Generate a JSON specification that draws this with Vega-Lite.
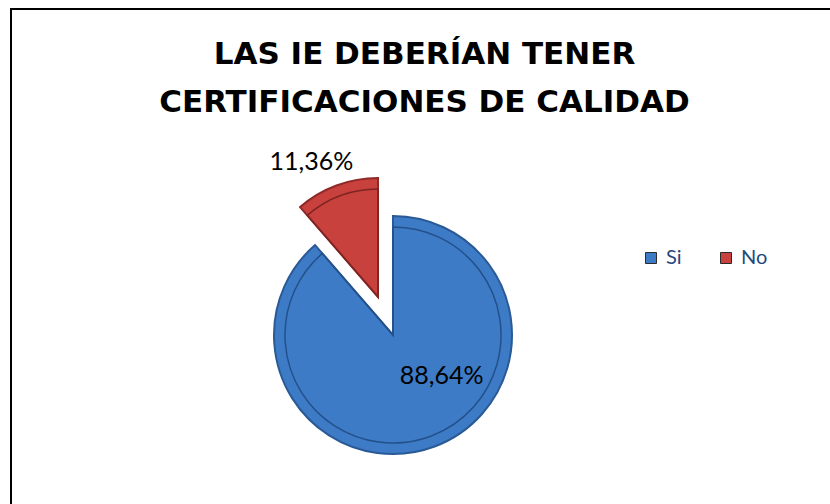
{
  "$schema": "https://vega.github.io/schema/vega-lite/v6.json",
  "width": 819,
  "height": 495,
  "autosize": {"type": "none"},
  "padding": {"left": 11, "top": 9, "right": 0, "bottom": 0},
  "background": "white",
  "view": {"stroke": "black", "strokeWidth": 2, "fill": "white", "strokeDash": [819, 1314, 495]},
  "title": {
    "text": ["LAS IE DEBERÍAN TENER", "CERTIFICACIONES DE CALIDAD"],
    "font": "DejaVu Sans",
    "fontWeight": "bold",
    "fontSize": 31,
    "lineHeight": 48,
    "color": "#000000",
    "anchor": "middle",
    "frame": "group",
    "orient": "top",
    "baseline": "top",
    "offset": -110,
    "dx": 4
  },
  "data": {
    "values": [
      {"respuesta": "Si", "porcentaje": 88.64, "etiqueta": "88,64%"},
      {"respuesta": "No", "porcentaje": 11.36, "etiqueta": "11,36%"}
    ]
  },
  "transform": [
    {"stack": "porcentaje", "groupby": [], "as": ["v0", "v1"]},
    {"calculate": "(datum.v0 + datum.v1) / 2", "as": "vm"}
  ],
  "encoding": {
    "color": {
      "field": "respuesta",
      "type": "nominal",
      "scale": {"domain": ["Si", "No"], "range": ["#3D7BC6", "#C8413D"]},
      "legend": {
        "orient": "none",
        "legendX": 630,
        "legendY": 239,
        "direction": "horizontal",
        "title": null,
        "symbolType": "square",
        "symbolSize": 121,
        "symbolStrokeColor": "#2b2b2b",
        "symbolStrokeWidth": 1,
        "labelFont": "Lato",
        "labelFontSize": 20,
        "labelColor": "#1F497D",
        "labelOffset": 5,
        "columnPadding": 34
      }
    }
  },
  "layer": [
    {
      "transform": [{"filter": "datum.respuesta === 'Si'"}],
      "mark": {"type": "arc", "radius": 119, "xOffset": -27.5, "yOffset": 78.5, "stroke": "#2A5A96", "strokeWidth": 2},
      "encoding": {
        "theta": {"field": "v0", "type": "quantitative", "scale": {"domain": [0, 100]}},
        "theta2": {"field": "v1"}
      }
    },
    {
      "transform": [{"filter": "datum.respuesta === 'No'"}],
      "mark": {"type": "arc", "radius": 119, "xOffset": -42.5, "yOffset": 40.5, "stroke": "#8E2A28", "strokeWidth": 2},
      "encoding": {
        "theta": {"field": "v0", "type": "quantitative", "scale": {"domain": [0, 100]}},
        "theta2": {"field": "v1"}
      }
    },
    {
      "transform": [{"filter": "datum.respuesta === 'Si'"}],
      "mark": {"type": "arc", "radius": 108, "xOffset": -27.5, "yOffset": 78.5, "fillOpacity": 0, "stroke": "#24508A", "strokeWidth": 1.5},
      "encoding": {
        "theta": {"field": "v0", "type": "quantitative", "scale": {"domain": [0, 100]}},
        "theta2": {"field": "v1"},
        "color": {"value": null}
      }
    },
    {
      "transform": [{"filter": "datum.respuesta === 'No'"}],
      "mark": {"type": "arc", "radius": 108, "xOffset": -42.5, "yOffset": 40.5, "fillOpacity": 0, "stroke": "#7E2422", "strokeWidth": 1.5},
      "encoding": {
        "theta": {"field": "v0", "type": "quantitative", "scale": {"domain": [0, 100]}},
        "theta2": {"field": "v1"},
        "color": {"value": null}
      }
    },
    {
      "transform": [{"filter": "datum.respuesta === 'Si'"}],
      "mark": {"type": "text", "radius": 45, "xOffset": -27.5, "yOffset": 78.5, "dx": 33, "dy": -1, "font": "Lato", "fontSize": 25, "align": "center", "baseline": "middle"},
      "encoding": {
        "theta": {"field": "vm", "type": "quantitative", "scale": {"domain": [0, 100]}},
        "text": {"field": "etiqueta"},
        "color": {"value": "#000000"}
      }
    },
    {
      "transform": [{"filter": "datum.respuesta === 'No'"}],
      "mark": {"type": "text", "radius": 145, "xOffset": -42.5, "yOffset": 40.5, "dx": -16, "dy": 1, "font": "Lato", "fontSize": 25, "align": "center", "baseline": "middle"},
      "encoding": {
        "theta": {"field": "vm", "type": "quantitative", "scale": {"domain": [0, 100]}},
        "text": {"field": "etiqueta"},
        "color": {"value": "#000000"}
      }
    }
  ]
}
